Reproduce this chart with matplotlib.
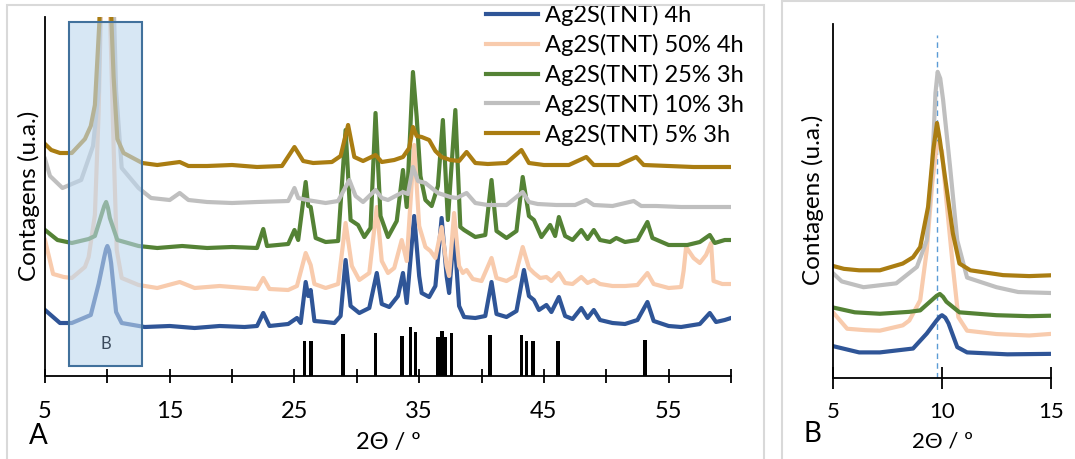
import matplotlib
matplotlib.use("Agg")
import matplotlib.pyplot as plt
from matplotlib.patches import Rectangle

plt.rcParams['font.family'] = ['Lato', 'DejaVu Sans']

# XRD patterns, intensity in arbitrary units (curves already offset)
x_4h = [5.0, 6.2, 7.15, 8.67, 9.3, 9.6, 9.75, 9.9, 10.0, 10.15, 10.3, 10.7, 11.15, 13, 15, 17, 19, 21,
        22.0, 22.5, 23.0, 24.5, 25.2, 25.5, 25.9, 26.1, 26.3, 26.6, 27.5, 28.2, 28.7, 29.1, 29.5, 30.2,
        31.0, 31.6, 32.0, 32.6, 33.3, 33.7, 34.0, 34.6, 35.0, 35.2, 35.8, 36.3, 36.8, 37.2, 37.4, 37.8,
        38.2, 38.6, 39.5, 40.3, 40.8, 41.2, 42.0, 42.8, 43.4, 43.8, 44.2, 44.6, 45.2, 45.6, 46.2, 46.7,
        47.3, 48.0, 48.5, 49.0, 49.5, 50.5, 51.5, 52.5, 53.3, 53.8, 55, 56, 57.5, 58.3, 58.8, 59.5, 60]
y_4h = [66, 53, 53, 61, 92, 110, 119, 127, 130, 125, 113, 64, 53, 49, 50, 48, 50, 49,
        50, 63, 50, 52, 58, 53, 94, 80, 86, 55, 54, 53, 60, 116, 70, 63,
        68, 103, 72, 69, 80, 103, 73, 160, 100, 83, 79, 90, 158, 100, 83, 145,
        70, 59, 58, 60, 94, 62, 59, 65, 106, 80, 76, 66, 71, 64, 79, 60,
        57, 68, 58, 66, 56, 53, 52, 56, 74, 55, 50, 49, 52, 63, 54, 56, 58]

x_50 = [5.0, 5.65, 6.5, 7.15, 8.2, 8.5, 9.0, 9.3, 9.55, 9.77, 10.0, 10.2, 10.5, 10.75, 11.15, 12.5, 14,
        15.8, 17, 19, 21, 22.0, 22.5, 23, 24.5, 25.2, 25.9, 26.3, 26.6, 27.5, 28.5, 29.1, 29.6, 30.2,
        31.0, 31.6, 32.0, 32.5, 33.0, 33.6, 34.0, 34.6, 35.0, 35.5, 35.9, 36.3, 36.8, 37.2, 37.4, 37.8,
        38.2, 38.5, 38.8, 39.3, 40.0, 40.8, 41.2, 42.0, 42.7, 43.3, 43.8, 44.2, 44.7, 45.2, 45.6, 46.2,
        46.7, 47.3, 48.0, 48.5, 49.0, 49.5, 50.5, 51.5, 52.5, 53.3, 53.8, 55, 56.0, 56.2, 56.4, 57.0,
        57.5, 58.0, 58.4, 58.6, 59.3, 60]
y_50 = [136, 102, 99, 98, 109, 119, 161, 264, 402, 486, 470, 368, 230, 126, 98, 91, 88,
        94, 88, 90, 88, 87, 98, 87, 86, 90, 123, 111, 92, 88, 92, 153, 110, 96,
        103, 169, 115, 103, 108, 136, 115, 231, 150, 129, 125, 118, 149, 110, 100, 163,
        110, 103, 106, 97, 95, 118, 98, 95, 100, 129, 108, 103, 98, 99, 95, 103,
        93, 92, 99, 93, 96, 92, 90, 90, 91, 103, 92, 88, 89, 105, 129, 118,
        113, 121, 133, 95, 92, 92]

x_25 = [5.0, 6, 7.15, 8.5, 9.0, 9.45, 9.75, 9.9, 10.05, 10.2, 10.8, 12.5, 14, 16, 18, 20, 22.0, 22.5,
        22.8, 24.5, 25.0, 25.3, 25.9, 26.1, 26.3, 26.7, 27.5, 28.5, 29.1, 29.5, 30.1, 30.6, 31.1, 31.5,
        31.9, 32.5, 33.2, 33.7, 34.0, 34.5, 34.8, 35.1, 35.5, 36.0, 36.5, 36.9, 37.3, 37.9, 38.3, 38.6,
        39.5, 40.3, 40.8, 41.2, 42.0, 42.8, 43.3, 43.8, 44.2, 44.8, 45.5, 45.9, 46.2, 46.7, 47.3, 48.0,
        48.5, 49.0, 49.5, 50.3, 50.8, 51.5, 52.5, 53.3, 53.7, 55, 56.5, 57.5, 58.3, 58.7, 59.5, 60]
y_25 = [146, 136, 133, 137, 140, 158, 170, 174, 168, 158, 136, 130, 128, 130, 128, 129, 128, 147,
        130, 132, 146, 136, 194, 170, 169, 138, 134, 135, 246, 156, 151, 139, 148, 263,
        160, 139, 155, 206, 169, 304, 259, 200, 176, 170, 190, 256, 156, 266, 149, 146,
        139, 141, 196, 145, 138, 145, 199, 160, 156, 139, 151, 140, 159, 140, 136, 146,
        137, 146, 136, 134, 138, 134, 136, 154, 138, 131, 131, 134, 141, 133, 136, 136]

x_10 = [5.0, 5.4, 6.4, 7.9, 8.85, 9.3, 9.55, 9.7, 9.8, 9.92, 10.05, 10.37, 10.7, 11.15, 12.5, 13.5, 15,
        15.8, 16.5, 18, 20, 22, 24.5, 25.0, 25.3, 26, 27.5, 28.5, 29.4, 29.9, 30.5, 31.5, 32.0, 32.5,
        33.7, 34.1, 34.5, 34.9, 35.5, 36.0, 36.5, 37.5, 38.0, 38.8, 39.5, 40.5, 42.0, 43.3, 43.8, 44.5,
        46, 47.5, 48.4, 49, 50.5, 52.2, 52.8, 54, 56, 58, 60]
y_10 = [217, 200, 188, 196, 230, 285, 437, 590, 634, 620, 576, 437, 285, 208, 188, 178, 176,
        183, 176, 174, 173, 174, 175, 188, 178, 176, 173, 175, 196, 180, 174, 186, 178, 176,
        184, 182, 209, 195, 193, 188, 183, 179, 178, 183, 173, 171, 171, 184, 174, 172,
        171, 171, 176, 171, 170, 175, 170, 170, 169, 169, 169]

x_5 = [5.0, 5.5, 6.2, 7.15, 8.2, 8.67, 9.0, 9.36, 9.6, 9.77, 9.9, 10.2, 10.5, 10.8, 11.3, 12.8, 14,
       15.8, 16.5, 18, 20, 22, 24, 25.0, 25.4, 25.7, 26.5, 28.0, 28.7, 29.3, 29.8, 30.5, 31.5, 32.0,
       33.0, 33.7, 34.2, 34.5, 34.8, 35.2, 35.8, 36.3, 36.8, 37.5, 38.2, 38.8, 39.5, 40.5, 42, 43.2,
       43.8, 45, 47, 48.4, 49, 51, 52.4, 53.0, 55, 57, 60]
y_5 = [232, 226, 223, 223, 237, 250, 271, 354, 472, 528, 493, 396, 299, 237, 223, 213, 211,
       214, 210, 210, 211, 209, 210, 229, 221, 215, 213, 214, 220, 251, 219, 215, 221, 214,
       216, 219, 228, 249, 240, 239, 236, 225, 219, 216, 215, 224, 213, 212, 213, 226,
       213, 211, 211, 219, 211, 211, 219, 211, 210, 209, 209]

# reference pattern (stick positions and heights)
ref_pos = [25.8, 26.3, 28.9, 31.5, 33.6, 34.3, 34.7, 36.5, 36.8, 37.1, 37.6, 40.7, 43.2, 43.6, 44.1,
           46.1, 53.1]
ref_h = [35, 35, 42, 43, 40, 49, 44, 39, 45, 39, 43, 41, 41, 35, 35, 35, 36]

series = [
    (x_4h, y_4h, "#2F5597", "Ag2S(TNT) 4h"),
    (x_50, y_50, "#F8CBAD", "Ag2S(TNT) 50% 4h"),
    (x_25, y_25, "#548235", "Ag2S(TNT) 25% 3h"),
    (x_10, y_10, "#BFBFBF", "Ag2S(TNT) 10% 3h"),
    (x_5, y_5, "#AA7D12", "Ag2S(TNT) 5% 3h"),
]

W, H = 1075, 459
fig = plt.figure(figsize=(W / 100, H / 100), dpi=100)

def px_axes(l, t, r, b):
    return fig.add_axes([l / W, (H - b) / H, (r - l) / W, (b - t) / H])

# light grey frames around the two panels
fig.patches.append(Rectangle((7 / W, -0.1), (764 - 7) / W, (H - 5) / H + 0.1, transform=fig.transFigure,
                             fill=False, edgecolor="#D9D9D9", lw=1.5))
fig.patches.append(Rectangle((782 / W, -0.1), 0.5, (H - 1) / H + 0.1, transform=fig.transFigure,
                             fill=False, edgecolor="#D9D9D9", lw=1.5))

axA = px_axes(45, 17, 731, 376)
axB = px_axes(833, 24, 1051, 378)

for ax in (axA, axB):
    for x, y, c, lab in series:
        ax.plot(x, y, color=c, lw=3, label=lab, solid_joinstyle="round")
    ax.spines["top"].set_visible(False)
    ax.spines["right"].set_visible(False)
    ax.spines["left"].set_linewidth(1.3)
    ax.spines["bottom"].set_linewidth(1.3)
    ax.set_yticks([])
    ax.tick_params(axis="x", which="both", direction="inout", length=10, width=1.3,
                   labelsize=17, pad=13)

axA.bar(ref_pos, ref_h, width=0.3, color="black", zorder=3)
axA.set_xlim(5, 60)
axA.set_ylim(0, 359)
axA.set_xticks(range(5, 60, 10))
axA.set_xticks(range(10, 61, 10), minor=True)

box = Rectangle((6.9, 10), 5.9, 344, facecolor="#BDD7EE", alpha=0.6, edgecolor="none", zorder=4)
axA.add_patch(box)
axA.add_patch(Rectangle((6.9, 10), 5.9, 344, fill=False, edgecolor="#41719C", lw=1.5, zorder=5))
axA.text(9.85, 32, "B", ha="center", va="center", fontsize=12, color="#3A4A5C", zorder=6)

axA.legend(loc="upper left", bbox_to_anchor=(486 / W, (H - 4) / H), bbox_transform=fig.transFigure,
           frameon=False, fontsize=17, handlelength=2.2, handletextpad=0.3, labelspacing=0.33,
           borderpad=0, borderaxespad=0)

axB.set_xlim(5, 15)
axB.set_ylim(0, 733)
axB.set_xticks([5, 10, 15])
axB.tick_params(axis="x", length=16, labelsize=16, pad=9)
axB.axvline(9.75, ymax=0.97, color="#5B9BD5", lw=1, ls=(0, (4, 3)), zorder=0)

fig.text(29 / W, 1 - 196 / H, "Contagens (u.a.)", rotation=90, ha="center", va="center", fontsize=17.5)
fig.text(813 / W, 1 - 200 / H, "Contagens (u.a.)", rotation=90, ha="center", va="center", fontsize=17.5)
fig.text(388 / W, 1 - 443 / H, "2Θ / º", ha="center", va="center", fontsize=17)
fig.text(942 / W, 1 - 442 / H, "2Θ / º", ha="center", va="center", fontsize=16)
fig.text(38 / W, 1 - 436 / H, "A", ha="center", va="center", fontsize=20)
fig.text(812 / W, 1 - 434 / H, "B", ha="center", va="center", fontsize=20)

fig.savefig("out.png", dpi=100)
